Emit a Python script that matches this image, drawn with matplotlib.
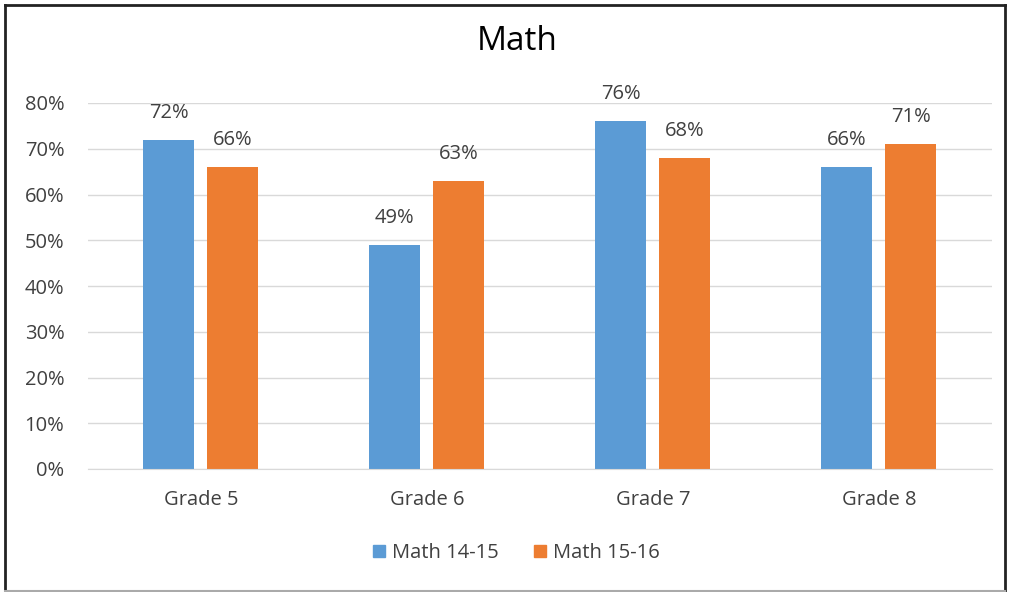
import matplotlib
matplotlib.use("Agg")
import matplotlib.pyplot as plt
import numpy as np
from matplotlib.lines import Line2D

categories = ["Grade 5", "Grade 6", "Grade 7", "Grade 8"]
math_14_15 = [0.72, 0.49, 0.76, 0.66]
math_15_16 = [0.66, 0.63, 0.68, 0.71]
series_names = ["Math 14-15", "Math 15-16"]
yticks = [0, 0.1, 0.2, 0.3, 0.4, 0.5, 0.6, 0.7, 0.8]

plt.rcParams['font.family'] = ['Open Sans', 'DejaVu Sans']
blue = "#5B9BD5"
orange = "#ED7D31"
txt = "#404040"
fs = 14.5

fig = plt.figure(figsize=(10.1, 5.92), dpi=100)
ax = fig.add_axes([88/1010, 1-469/592, 904/1010, (469-103)/592])

x = np.arange(len(categories))
w = 0.226
b1 = ax.bar(x - 0.143, math_14_15, w, color=blue, label=series_names[0], zorder=3)
b2 = ax.bar(x + 0.140, math_15_16, w, color=orange, label=series_names[1], zorder=3)

for bars in (b1, b2):
    for r in bars:
        ax.annotate(f"{r.get_height()*100:.0f}%",
                    (r.get_x() + r.get_width()/2, r.get_height()),
                    xytext=(0, 27), textcoords="offset pixels",
                    ha="center", va="center", fontsize=fs, color=txt)

ax.set_xlim(-0.5, 3.5)
ax.set_ylim(0, 0.8)
ax.set_yticks(yticks)
ax.set_yticklabels([f"{t*100:.0f}%" for t in yticks])
ax.set_xticks(x)
ax.set_xticklabels(categories)
ax.tick_params(axis="both", length=0, labelsize=fs, colors=txt)
ax.tick_params(axis="x", pad=15)
ax.tick_params(axis="y", pad=17)
ax.grid(axis="y", color="#D9D9D9", linewidth=1, zorder=0)
for s in ["top", "right", "left"]:
    ax.spines[s].set_visible(False)
ax.spines["bottom"].set_color("#D9D9D9")
ax.spines["bottom"].set_zorder(4)

fig.text(517/1010, 1-41/592, "Math", ha="center", va="center", fontsize=24, color="#000000")

handles = [Line2D([], [], marker="s", linestyle="none", markersize=9, color=blue),
           Line2D([], [], marker="s", linestyle="none", markersize=9, color=orange)]
fig.legend(handles, series_names, loc="center", bbox_to_anchor=(517/1010, 1-553/592),
           ncol=2, frameon=False, fontsize=fs, handlelength=0.5, handletextpad=0.4,
           columnspacing=1.8, labelcolor=txt)

# outer border
fig.add_artist(Line2D([5/1010, 5/1010], [0, 1-5/592], color="#222222", lw=2, transform=fig.transFigure))
fig.add_artist(Line2D([5/1010, 1005/1010], [1-5/592, 1-5/592], color="#222222", lw=2, transform=fig.transFigure))
fig.add_artist(Line2D([1005/1010, 1005/1010], [0, 1-5/592], color="#222222", lw=2, transform=fig.transFigure))
fig.add_artist(Line2D([5/1010, 1005/1010], [1/592, 1/592], color="#AAAAAA", lw=1.5, transform=fig.transFigure))

fig.savefig("out.png", dpi=100)
